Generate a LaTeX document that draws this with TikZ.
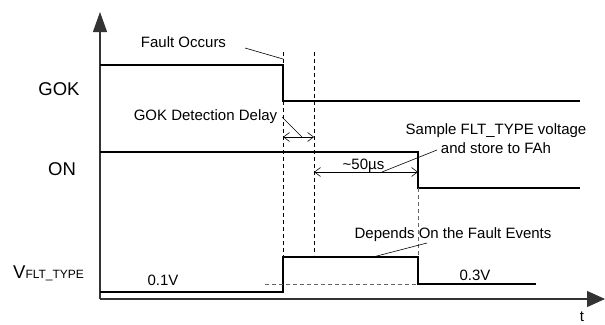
\documentclass[tikz,border=0pt]{standalone}
\usepackage{fontspec}
\setmainfont{Liberation Sans}
\usetikzlibrary{arrows.meta}
\begin{document}
\begin{tikzpicture}[x=1pt,y=-1pt,
  sig/.style={line width=1.7pt,line join=miter},
  axis/.style={line width=1.2pt,draw=black!80},
  guide/.style={line width=0.7pt,dash pattern=on 4pt off 3pt},
  gguide/.style={line width=0.7pt,dash pattern=on 4pt off 3pt,draw=black!60},
  leader/.style={line width=0.6pt},
  dim/.style={line width=0.6pt,{Straight Barb[length=6pt,width=9pt]}-{Straight Barb[length=6pt,width=9pt]}},
  lab/.style={anchor=base,inner sep=0pt,font=\fontsize{18.5}{20}\selectfont},
  ann/.style={anchor=base,inner sep=0pt,font=\fontsize{15}{17}\selectfont}]
\useasboundingbox (0,0) rectangle (605,324);
% axes
\coordinate (O) at (100,299);
\coordinate (Ytop) at (100,12);
\coordinate (Xend) at (605,299);
\draw[axis,-{Triangle[length=20pt,width=14pt]}] (O) -- (Ytop);
\draw[axis,-{Triangle[length=18pt,width=16pt]}] (O) -- (Xend);
% GOK
\coordinate (g0) at (100,65);
\coordinate (g1) at (283,65);
\coordinate (g2) at (283,101);
\coordinate (g3) at (580,101);
\draw[sig] (g0) -- (g1) -- (g2) -- (g3);
% ON
\coordinate (n0) at (100,152);
\coordinate (n1) at (418,152);
\coordinate (n2) at (418,188);
\coordinate (n3) at (580,188);
\draw[sig] (n0) -- (n1) -- (n2) -- (n3);
% VFLT
\coordinate (v0) at (100,292);
\coordinate (v1) at (283,292);
\coordinate (v2) at (283,257);
\coordinate (v3) at (418,257);
\coordinate (v4) at (418,284);
\coordinate (v5) at (536,284);
\draw[sig] (v0) -- (v1) -- (v2) -- (v3) -- (v4) -- (v5);
% guides
\coordinate (d1t) at (283,52);
\coordinate (d2t) at (314,52);
\coordinate (d2b) at (314,255);
\coordinate (h0) at (265,284);
\draw[guide] (d1t) -- (g1);
\draw[guide] (g2) -- (v2);
\draw[guide] (d2t) -- (d2b);
\draw[gguide] (n2) -- (v3);
\draw[gguide] (h0) -- (v4);
% dimension arrows
\coordinate (a1) at (283,137);
\coordinate (a2) at (314,137);
\coordinate (b1) at (314,172);
\coordinate (b2) at (418,172);
\draw[dim] (a1) -- (a2);
\draw[dim] (b1) -- (b2);
% labels
\node[lab] (lgok) at (59,95) {GOK};
\node[lab] (lon) at (62,175) {ON};
\node[lab,anchor=base west] (lv) at (13,278.3) {V\raisebox{-0.5pt}{\fontsize{12}{14}\selectfont FLT\_TYPE}};
\node[ann] (lt) at (582,321) {t};
% annotations
\node[ann] (fault) at (183.5,47.3) {Fault Occurs};
\node[ann] (delay) at (205.5,120.7) {GOK Detection Delay};
\node[ann] (samp1) at (496,134.3) {Sample FLT\_TYPE voltage};
\node[ann] (samp2) at (496,153.3) {and store to FAh};
\node[ann] (fifty) at (363.5,169.3) {\textasciitilde50µs};
\node[ann] (dep) at (453,238.3) {Depends On the Fault Events};
\node[ann] (v01) at (163,285.7) {0.1V};
\node[ann] (v03) at (475,280.7) {0.3V};
% leaders
\coordinate (lf0) at (245,48);
\coordinate (lf1) at (283,59);
\draw[leader] (lf0) -- (lf1);
\coordinate (ld0) at (282,117);
\coordinate (ld1) at (302,137);
\draw[leader] (ld0) -- (ld1);
\coordinate (ls0) at (382,172);
\coordinate (ls1) at (437,150);
\draw[leader] (ls0) -- (ls1);
\coordinate (lp0) at (373,257);
\coordinate (lp1) at (427,243);
\draw[leader] (lp0) -- (lp1);
\end{tikzpicture}
\end{document}
